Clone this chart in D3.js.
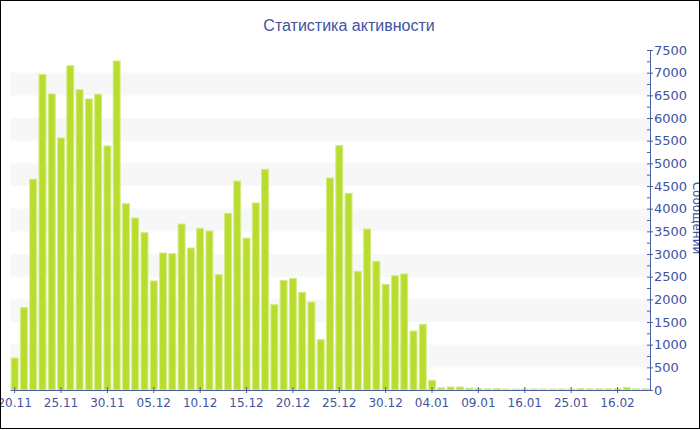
<!doctype html>
<html>
<head>
  <meta charset="utf-8">
  <script src="https://d3js.org/d3.v7.min.js"></script>
  <style>
    body { margin: 0; background: #fff; }
    svg text { font-family: 'DejaVu Sans', sans-serif; fill: #4153a0; }
  </style>
</head>
<body>
  <svg id="chart" width="700" height="430"></svg>
  <script>
    var dates = [
      "20.11", "21.11", "22.11", "23.11", "24.11", "25.11", "26.11", "27.11", "28.11", "29.11", "30.11",
      "01.12", "02.12", "03.12", "04.12", "05.12", "06.12", "07.12", "08.12", "09.12", "10.12",
      "11.12", "12.12", "13.12", "14.12", "15.12", "16.12", "17.12", "18.12", "19.12", "20.12",
      "21.12", "22.12", "23.12", "24.12", "25.12", "26.12", "27.12", "28.12", "29.12", "30.12", "31.12",
      "01.01", "02.01", "03.01", "04.01", "05.01", "06.01", "07.01", "08.01", "09.01",
      "10.01", "11.01", "12.01", "14.01", "16.01", "17.01", "18.01", "20.01", "23.01", "25.01",
      "26.01", "29.01", "02.02", "09.02", "16.02", "17.02", "20.02", "22.02"
    ];
    var messages = [
      706, 1816, 4650, 6960, 6530, 5560, 7155, 6625, 6420, 6525, 5383,
      7258, 4110, 3795, 3470, 2405, 3022, 3007, 3662, 3132, 3567,
      3508, 2544, 3897, 4610, 3350, 4125, 4868, 1882, 2419, 2463,
      2154, 1941, 1110, 4677, 5390, 4338, 2618, 3551, 2838, 2331, 2522,
      2559, 1301, 1449, 213, 50, 66, 66, 40, 30,
      25, 30, 20, 20, 20, 20, 20, 20, 20, 20,
      30, 25, 25, 25, 30, 55, 25, 25
    ];
    var yTicks = d3.range(0, 7501, 500);
    var yMinor = d3.range(250, 7500, 500);
    var xTickLabels = dates.filter((d, i) => i % 5 === 0);

    var svg = d3.select("#chart");
    var axisColor = "#4b5ea6";

    var x = d3.scaleBand()
      .domain(dates)
      .range([10, 650])
      .paddingInner(0.25)
      .paddingOuter(0.125);

    var y = d3.scaleLinear()
      .domain([0, 7500])
      .range([390, 50]);

    // light bands
    var bands = d3.range(500, 7500, 1000);
    svg.selectAll("rect.band")
      .data(bands)
      .enter()
      .append("rect")
      .attr("class", "band")
      .attr("x", 10)
      .attr("width", 640)
      .attr("y", d => y(d + 500))
      .attr("height", d => y(d) - y(d + 500))
      .style("fill", "#f7f7f7");

    svg.selectAll("rect.bar")
      .data(messages)
      .enter()
      .append("rect")
      .attr("class", "bar")
      .attr("x", (d, i) => x(dates[i]))
      .attr("width", x.bandwidth())
      .attr("y", d => y(d))
      .attr("height", d => y(0) - y(d))
      .style("fill", "#b9dd2f")
      .style("stroke", "#d5eb86")
      .style("stroke-width", 1);

    // x axis
    var xAxis = svg.append("g")
      .attr("transform", "translate(0,390)")
      .call(d3.axisBottom(x).tickValues(xTickLabels).tickSize(3).tickPadding(5).tickSizeOuter(0));
    xAxis.selectAll("line").attr("y1", -3).attr("y2", 3).style("stroke", axisColor);
    xAxis.select(".domain").style("stroke", axisColor);
    xAxis.selectAll("text").style("font-size", "12px");

    // y axis on the right
    var yAxis = svg.append("g")
      .attr("transform", "translate(650,0)")
      .call(d3.axisRight(y).tickValues(yTicks).tickFormat(d3.format("d")).tickSize(3).tickPadding(1).tickSizeOuter(0));
    yAxis.selectAll("line").attr("x1", -3).style("stroke", axisColor);
    yAxis.select(".domain").style("stroke", axisColor);
    yAxis.selectAll("text").style("font-size", "13px");

    var yMinorAxis = svg.append("g")
      .attr("transform", "translate(650,0)")
      .call(d3.axisLeft(y).tickValues(yMinor).tickSize(3).tickFormat("").tickSizeOuter(0));
    yMinorAxis.selectAll("line").style("stroke", axisColor);
    yMinorAxis.select(".domain").remove();

    svg.append("text")
      .attr("transform", "translate(693,218) rotate(90)")
      .attr("text-anchor", "middle")
      .style("font-size", "12px")
      .text("Сообщений");

    svg.append("text")
      .attr("x", 349)
      .attr("y", 31)
      .attr("text-anchor", "middle")
      .style("font-family", "'Liberation Sans', sans-serif")
      .style("font-size", "16px")
      .text("Статистика активности");

    svg.append("rect")
      .attr("x", 0.5)
      .attr("y", 0.5)
      .attr("width", 699)
      .attr("height", 428)
      .style("fill", "none")
      .style("stroke", "#000");
  </script>
</body>
</html>
